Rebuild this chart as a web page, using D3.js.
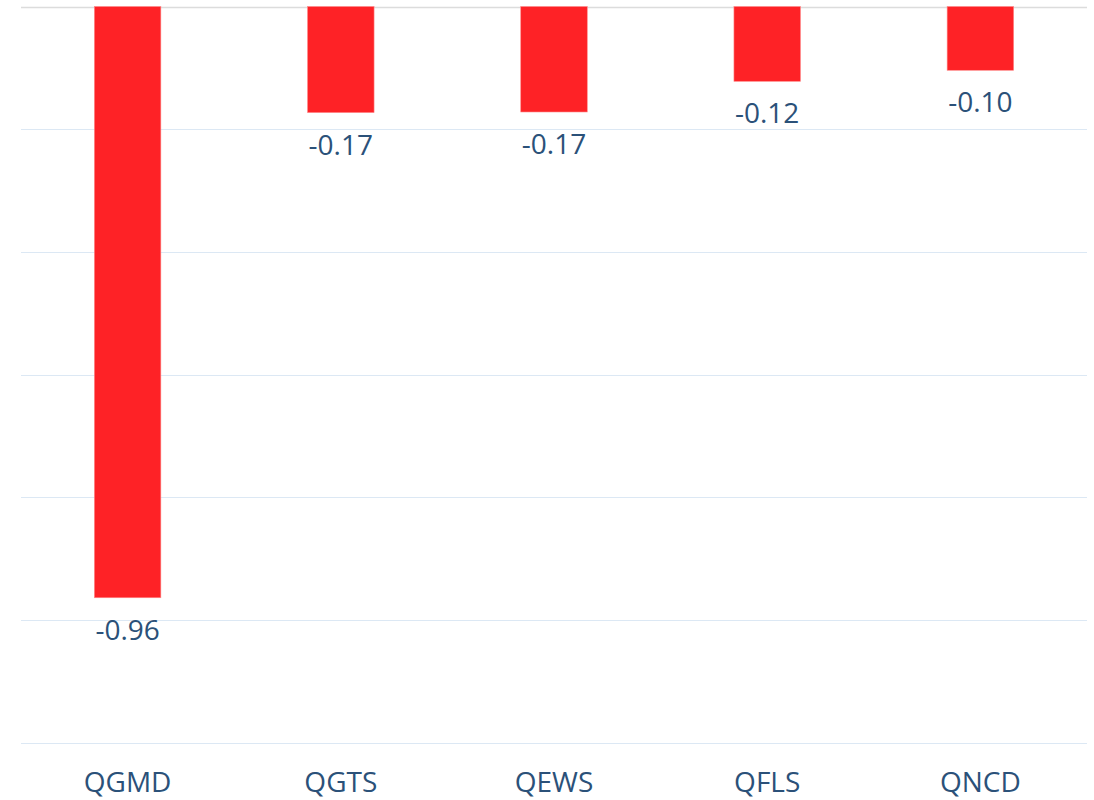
<!DOCTYPE html>
<html>
<head>
<meta charset="utf-8">
<script src="https://cdn.jsdelivr.net/npm/d3@7"></script>
<style>
  html, body { margin: 0; padding: 0; background: #ffffff; }
  svg { display: block; }
</style>
</head>
<body>
<svg id="chart" width="1094" height="800"></svg>
<script>
const categories = ["QGMD", "QGTS", "QEWS", "QFLS", "QNCD"];
const values = [-0.964, -0.173, -0.172, -0.122, -0.104];
const yTicks = [0, -0.2, -0.4, -0.6, -0.8, -1.0, -1.2];

(function () {
const svg = d3.select("#chart");
const plotLeft = 21, plotRight = 1087, plotTop = 6.5, plotBottom = 742.5;

const x = d3.scaleBand().domain(categories).range([plotLeft, plotRight])
  .paddingInner(0.688).paddingOuter(0.344);
const y = d3.scaleLinear().domain([-1.2, 0]).range([plotBottom, plotTop]);

const font = "'Open Sans', 'Noto Sans', sans-serif";
const textColor = "#2b5179";

// gridlines
svg.append("g").selectAll("line").data(yTicks).join("line")
  .attr("x1", plotLeft).attr("x2", plotRight)
  .attr("y1", d => Math.round(y(d)) + 0.5).attr("y2", d => Math.round(y(d)) + 0.5)
  .attr("stroke", d => d === 0 ? "#dcdcdc" : "#dce8f4")
  .attr("stroke-width", d => d === 0 ? 1.5 : 1.2);

// bars
svg.append("g").selectAll("rect").data(values).join("rect")
  .attr("x", (d, i) => x(categories[i]))
  .attr("width", x.bandwidth())
  .attr("y", y(0))
  .attr("height", d => y(d) - y(0))
  .attr("fill", "#fe2226")
  .attr("stroke", "#ff8a8a")
  .attr("stroke-width", 0.6);

// value labels
svg.append("g").selectAll("text").data(values).join("text")
  .attr("x", (d, i) => x(categories[i]) + x.bandwidth() / 2)
  .attr("y", d => y(d) + 42)
  .attr("text-anchor", "middle")
  .attr("font-family", font)
  .attr("font-size", 28)
  .attr("fill", textColor)
  .text(d => d.toFixed(2));

// category labels (x axis)
const xAxis = d3.axisBottom(x).tickSize(0).tickPadding(0);
const gx = svg.append("g").attr("transform", `translate(0,${plotBottom})`).call(xAxis);
gx.select(".domain").remove();
gx.selectAll("text")
  .attr("y", 49.5).attr("dy", null)
  .attr("font-family", font)
  .attr("font-size", 28)
  .attr("fill", textColor);
})();
</script>
</body>
</html>
